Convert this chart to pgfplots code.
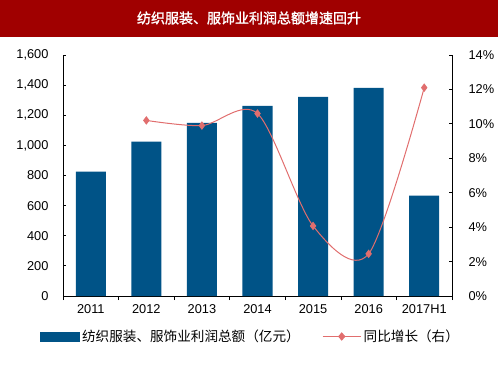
\documentclass[border=0pt]{standalone}
\usepackage{pgfplots}
\pgfplotsset{compat=1.18}
\usepackage{fontspec}
\setmainfont{Liberation Sans}
\newfontfamily\cjk{Noto Sans CJK SC}
\newfontfamily\cjkb{Noto Sans CJK SC}[FakeBold=1.5]
\definecolor{barblue}{RGB}{0,83,135}
\definecolor{linered}{RGB}{225,110,110}
\definecolor{titlered}{RGB}{160,0,0}
\begin{document}
\begin{tikzpicture}[x=1pt,y=1pt]
\path (0,0) rectangle (500,375);
\fill[titlered] (0,338) rectangle (498,375);
\node[white,font=\cjkb\fontsize{14}{16}\selectfont] at (249,357) {纺织服装、服饰业利润总额增速回升};
\begin{axis}[
  at={(63pt,79pt)}, anchor=south west, scale only axis,
  width=389pt, height=241pt,
  xmin=-0.5, xmax=6.5, ymin=0, ymax=1600,
  axis y line*=left, axis x line*=bottom,
  axis line style={black, line width=0.9pt, -},
  ytick={0,200,...,1600},
  xtick={-0.5,0.5,1.5,2.5,3.5,4.5,5.5,6.5},
  x tick label as interval,
  xticklabels={2011,2012,2013,2014,2015,2016,2017H1},
  xtick style={black, line width=0.7pt},
  ytick style={black, line width=0.9pt},
  x tick style={/pgfplots/major tick length=4pt},
  y tick style={/pgfplots/major tick length=3pt},
  tick align=inside,
  xtick align=outside,
  /pgf/number format/assume math mode=true,
  /pgf/number format/1000 sep={,},
  tick label style={font=\fontsize{12.8}{14}\selectfont},
  yticklabel style={xshift=-11pt},
  xticklabel style={yshift=-1pt},
]
\addplot[ybar, bar width=0.54, bar shift=0pt, fill=barblue, draw=none]
  coordinates {(0,825)(1,1025)(2,1150)(3,1262)(4,1322)(5,1382)(6,666)};
\end{axis}
\begin{axis}[
  at={(63pt,79pt)}, anchor=south west, scale only axis,
  width=389pt, height=241pt,
  xmin=-0.5, xmax=6.5, ymin=0, ymax=14,
  axis y line*=right, axis x line=none,
  axis line style={black, line width=0.9pt, -},
  ytick={0,2,...,14},
  yticklabel={\pgfmathprintnumber{\tick}\%},
  tick align=inside,
  ytick style={black, line width=0.9pt},
  y tick style={/pgfplots/major tick length=3pt},
  /pgf/number format/assume math mode=true,
  tick label style={font=\fontsize{12.8}{14}\selectfont},
  yticklabel style={xshift=13pt},
  legend columns=2,
  legend style={at={(-0.059,-0.168)}, anchor=west, draw=none, fill=none,
    inner sep=0pt, font=\cjk\fontsize{13.6}{15}\selectfont,
    /tikz/every even column/.append style={column sep=20pt},
    nodes={inner sep=2.5pt}},
  legend cell align=left,
]
\addlegendimage{legend image code/.code={\fill[barblue] (0pt,-4.5pt) rectangle (39pt,4.5pt);}}
\addlegendentry{纺织服装、服饰业利润总额（亿元）}
\addplot[linered, line width=1pt, smooth, tension=0.5, mark=diamond*, mark size=3.5pt,
  mark options={fill=linered, draw=linered},
  legend image code/.code={\draw[linered,line width=1pt] (0pt,0pt)--(38pt,0pt);
    \fill[linered] (19pt,0pt) +(-3pt,0pt)--+(0pt,3.5pt)--+(3pt,0pt)--+(0pt,-3.5pt)--cycle;}]
  coordinates {(1,10.2)(2,9.9)(3,10.6)(4,4.07)(5,2.45)(6,12.1)};
\addlegendentry{同比增长（右）}
\end{axis}
\end{tikzpicture}
\end{document}
